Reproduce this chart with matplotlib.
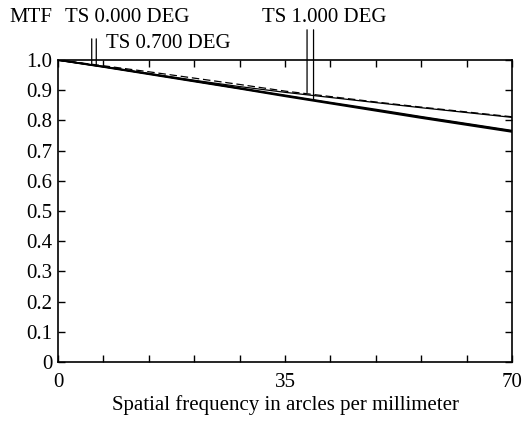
import matplotlib
matplotlib.use("Agg")
from matplotlib import pyplot as plt

plt.rcParams['font.family'] = ['Liberation Serif', 'DejaVu Serif']

# spatial frequency (cycles/mm)
freq = [0, 7, 14, 21, 28, 35, 42, 49, 56, 63, 70]

# MTF
mtf_0deg = [1.0, 0.978, 0.955, 0.931, 0.907, 0.883, 0.859, 0.836, 0.812, 0.789, 0.766]
mtf_07deg_t = [1.0, 0.977, 0.953, 0.929, 0.905, 0.880, 0.856, 0.832, 0.808, 0.785, 0.762]
mtf_07deg_s = [1.0, 0.981, 0.961, 0.940, 0.919, 0.897, 0.879, 0.861, 0.844, 0.828, 0.812]
mtf_1deg_t = [1.0, 0.978, 0.954, 0.930, 0.906, 0.882, 0.858, 0.834, 0.811, 0.788, 0.765]
mtf_1deg_s = [1.0, 0.978, 0.955, 0.933, 0.912, 0.893, 0.876, 0.859, 0.842, 0.826, 0.810]

# x of the leader ticks under each label
lbl_0deg = [5.2, 5.9]
lbl_1deg = [38.4, 39.4]

fig = plt.figure(figsize=(5.23, 4.23), dpi=100)
ax = fig.add_axes([58 / 523, 1 - 362 / 423, 454 / 523, 302 / 423])

ax.plot(freq, mtf_0deg, color='black', lw=1.3)
ax.plot(freq, mtf_07deg_t, color='black', lw=1.3)
ax.plot(freq, mtf_1deg_t, color='black', lw=1.0)
ax.plot(freq, mtf_1deg_s, color='black', lw=0.9)
ax.plot(freq, mtf_07deg_s, color='black', lw=0.9, dashes=(6, 3))

ax.set_xlim(0, 70)
ax.set_ylim(0, 1.0)
ax.set_xticks(range(0, 71, 7))
ax.set_xticklabels(['0', '', '', '', '', '35', '', '', '', '', '70'])
ax.set_yticks([i / 10 for i in range(11)])
ax.set_yticklabels(['0'] + ['%.1f' % (i / 10) for i in range(1, 11)])
ax.tick_params(direction='in', top=True, right=True, length=5, width=1,
               labelsize=15, pad=4)
ax.tick_params(axis='x', pad=8)
for sp in ax.spines.values():
    sp.set_linewidth(1.2)

ax.set_xlabel('Spatial frequency in arcles per millimeter', fontsize=15, labelpad=2)

# leader lines from labels down to curves
line_kw = dict(arrowstyle='-', lw=0.9, color='black', shrinkA=0, shrinkB=0)
for x in lbl_0deg:
    ax.annotate('', xy=(x, 0.985), xytext=(x, 1.07),
                arrowprops=line_kw, annotation_clip=False)
ax.annotate('', xy=(lbl_1deg[0], 0.892), xytext=(lbl_1deg[0], 1.10),
            arrowprops=line_kw, annotation_clip=False)
ax.annotate('', xy=(lbl_1deg[1], 0.87), xytext=(lbl_1deg[1], 1.10),
            arrowprops=line_kw, annotation_clip=False)

fig.text(9 / 523, 1 - 18 / 423, 'MTF', fontsize=15, va='center')
fig.text(65 / 523, 1 - 18 / 423, 'TS 0.000 DEG', fontsize=15, va='center')
fig.text(106 / 523, 1 - 44 / 423, 'TS 0.700 DEG', fontsize=15, va='center')
fig.text(262 / 523, 1 - 18 / 423, 'TS 1.000 DEG', fontsize=15, va='center')

fig.savefig('out.png', dpi=100)
